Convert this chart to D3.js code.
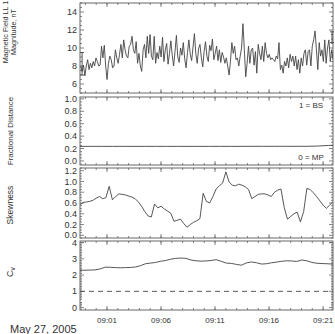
<!DOCTYPE html>
<html>
<head>
<meta charset="utf-8">
<script src="https://cdn.jsdelivr.net/npm/d3@7"></script>
<style>
  body { margin: 0; background: #fff; }
  svg { display: block; font-family: "Liberation Sans", Arial, sans-serif; }
</style>
</head>
<body>
<div id="chart"></div>
<script>
// magnetic field magnitude, ~7.7 s cadence
var bStart = Date.UTC(2005, 4, 27, 8, 58, 34), bStep = 7700;
var bField = [
  8.0, 7.4, 8.1, 6.9, 8.0, 8.7, 7.6, 8.3, 7.8, 8.5, 8.0, 8.9, 8.5, 8.0, 8.1, 10.2, 8.9, 10.3, 8.0, 6.5,
  8.3, 9.1, 8.7, 7.8, 8.0, 9.8, 8.9, 8.3, 9.3, 10.4, 8.9, 10.9, 9.8, 9.1, 8.9, 10.2, 10.4, 11.3, 9.8, 9.4,
  10.7, 8.3, 9.4, 8.0, 7.4, 9.8, 10.4, 8.9, 11.3, 9.4, 11.5, 9.1, 8.7, 11.3, 8.3,
  9.5, 8.8, 10.2, 9.0, 11.2, 8.5, 9.8, 10.5, 8.2, 9.4, 10.8, 9.2, 8.0, 9.6, 11.4, 9.0, 8.4, 10.0, 9.2, 10.6,
  8.8, 7.8, 9.5, 10.9, 9.3, 8.6, 10.1, 11.6, 9.4, 8.3, 9.9, 10.4, 8.9, 7.9, 9.6, 10.7, 9.1, 8.5, 10.3, 9.7,
  11.0, 8.7, 9.4, 10.2, 8.6, 9.8, 8.4, 9.5, 9.0,
  8.3, 8.9, 8.0, 7.0, 8.5, 10.6, 9.4, 10.2, 8.7, 8.9, 8.0, 9.1, 10.0, 12.7, 9.8, 6.8, 8.3, 10.2, 8.3, 9.8,
  10.0, 8.1, 9.6, 7.2, 10.4, 9.4, 8.7, 10.2, 8.5, 10.6, 9.4, 8.9, 9.3, 8.7, 8.9, 8.7, 8.5, 9.1, 8.8, 10.6,
  7.6, 8.1, 7.2, 8.5, 8.0, 8.9, 7.8, 9.3, 8.5, 9.1, 8.0, 9.1, 7.6, 8.7, 7.2, 8.9, 8.0, 9.4, 9.8, 8.1,
  9.6, 9.8, 8.0, 10.2, 10.9, 11.9, 9.8, 7.6, 10.6, 9.1, 9.8, 8.5, 10.9, 8.3, 10.0, 10.9, 8.5, 9.8, 8.7
];
// error bars on the field panel [index, low, high]
var bErrors = [[1, 7.0, 9.5], [182, 10.6, 11.8]];

// fractional distance between magnetopause (0) and bow shock (1), 1 min cadence
var fdStart = Date.UTC(2005, 4, 27, 8, 58, 30), fdStep = 60000;
var fracDist = [0.235, 0.235, 0.235, 0.235, 0.235, 0.235, 0.235, 0.235, 0.235, 0.235, 0.235, 0.235, 0.235,
  0.235, 0.235, 0.235, 0.236, 0.236, 0.236, 0.236, 0.236, 0.236, 0.240, 0.250, 0.254];

// skewness, 18 s cadence
var skStart = Date.UTC(2005, 4, 27, 8, 58, 30), skStep = 18000;
var skewness = [0.57, 0.61, 0.62, 0.63, 0.65, 0.69, 0.72, 0.68, 0.70, 0.91, 0.66, 0.72, 0.77, 0.76, 0.75,
  0.73, 0.71, 0.68, 0.62, 0.54, 0.44, 0.36, 0.34, 0.58, 0.51, 0.54, 0.49, 0.45, 0.41, 0.26, 0.28, 0.30,
  0.22, 0.15, 0.20, 0.24, 0.27, 0.31, 0.78, 0.63, 0.60, 0.72, 0.86, 0.92, 0.97, 1.18, 0.99, 0.93, 0.92,
  0.95, 0.93, 0.90, 0.85, 0.68, 0.72, 0.76, 0.77, 0.77, 0.75, 0.72, 0.80, 0.84, 0.86, 0.52, 0.30, 0.35,
  0.40, 0.43, 0.25, 0.44, 0.87, 0.85, 0.79, 0.72, 0.64, 0.56, 0.50, 0.56, 0.62];

// coefficient of variation, 28 s cadence
var cvStart = Date.UTC(2005, 4, 27, 8, 58, 30), cvStep = 28000;
var cv = [2.30, 2.30, 2.31, 2.32, 2.38, 2.49, 2.48, 2.46, 2.45, 2.46, 2.47, 2.50, 2.58, 2.70, 2.74, 2.78,
  2.85, 2.90, 2.98, 3.03, 3.05, 3.03, 2.93, 2.88, 2.86, 2.87, 2.90, 2.95, 2.85, 2.74, 2.72, 2.66, 2.61,
  2.75, 2.81, 2.76, 2.68, 2.70, 2.76, 2.80, 2.85, 2.88, 2.87, 2.84, 2.93, 2.88, 2.78, 2.73, 2.71, 2.70,
  2.68, 2.67];
var cvRef = 1;

var timeTicks = ["09:01", "09:06", "09:11", "09:16", "09:21"];
var dateLabel = "May 27, 2005";

var width = 335, height = 334;
var left = 80, right = 333;
var ink = "#444", frame = "#666";

var svg = d3.select("#chart").append("svg")
  .attr("width", width).attr("height", height);

var x = d3.scaleUtc()
  .domain([Date.UTC(2005, 4, 27, 8, 58, 30), Date.UTC(2005, 4, 27, 9, 21, 55)])
  .range([left, right]);

var parseHM = d3.utcParse("%Y-%m-%d %H:%M");
var majorTimes = timeTicks.map(function (t) { return parseHM("2005-05-27 " + t); });
var minorTimes = d3.utcMinute.range(x.domain()[0], x.domain()[1]);

svg.append("clipPath").attr("id", "clip")
  .append("rect").attr("x", left).attr("y", 0).attr("width", right - left).attr("height", height);

function series(start, step, values) {
  return values.map(function (v, i) { return { t: new Date(start + i * step), v: v }; });
}

function panel(opt) {
  var y = d3.scaleLinear().domain(opt.domain).range([opt.bottom, opt.top]);
  var g = svg.append("g");

  // x ticks top and bottom
  [[minorTimes, 2], [majorTimes, 4]].forEach(function (s) {
    s[0].forEach(function (t) {
      var px = x(t);
      g.append("line").attr("x1", px).attr("x2", px).attr("y1", opt.bottom).attr("y2", opt.bottom - s[1])
        .attr("stroke", frame).attr("stroke-width", 0.8);
      g.append("line").attr("x1", px).attr("x2", px).attr("y1", opt.top).attr("y2", opt.top + s[1])
        .attr("stroke", frame).attr("stroke-width", 0.8);
    });
  });

  // y ticks left and right
  var minors = d3.range(opt.domain[0], opt.domain[1] + 1e-9, opt.minor)
    .map(function (v) { return Math.round(v / opt.minor) * opt.minor; })
    .filter(function (v) { return v >= opt.domain[0] && v <= opt.domain[1]; });
  minors.forEach(function (v) {
    var len = opt.major.some(function (m) { return Math.abs(m - v) < 1e-6; }) ? 4 : 2;
    g.append("line").attr("x1", left).attr("x2", left + len).attr("y1", y(v)).attr("y2", y(v))
      .attr("stroke", frame).attr("stroke-width", 0.8);
    g.append("line").attr("x1", right).attr("x2", right - len).attr("y1", y(v)).attr("y2", y(v))
      .attr("stroke", frame).attr("stroke-width", 0.8);
  });

  g.selectAll("text.yl").data(opt.major).enter().append("text")
    .attr("x", left - 3).attr("y", function (d) { return y(d); })
    .attr("dy", "0.35em").attr("text-anchor", "end")
    .attr("font-size", 9).attr("fill", "#333")
    .text(opt.fmt);

  // frame
  g.append("rect").attr("x", left).attr("y", opt.top)
    .attr("width", right - left).attr("height", opt.bottom - opt.top)
    .attr("fill", "none").attr("stroke", frame).attr("stroke-width", 1);

  // y title
  var fs = opt.titleSize || 8;
  var tg = g.append("g").attr("transform", "translate(" + opt.titleX + "," + opt.titleY + ") rotate(-90)");
  opt.title.forEach(function (line, i) {
    tg.append("text").attr("x", 0).attr("y", i * (fs + 0.5))
      .attr("text-anchor", "middle").attr("font-size", fs).attr("fill", "#333")
      .text(line);
  });

  var line = d3.line()
    .x(function (d) { return x(d.t); })
    .y(function (d) { return y(d.v); });
  g.append("path").datum(opt.data)
    .attr("clip-path", "url(#clip)")
    .attr("fill", "none").attr("stroke", ink).attr("stroke-width", 0.9)
    .attr("d", line);

  return { g: g, y: y };
}

// panel 1: field magnitude
var p1 = panel({
  top: 3, bottom: 93, domain: [5, 15], major: [6, 8, 10, 12, 14], minor: 0.5,
  fmt: function (d) { return d; },
  title: ["Magnetic Field LL 1", "Magnitude, nT"], titleX: 8, titleY: 32, titleSize: 7.2,
  data: series(bStart, bStep, bField)
});
bErrors.forEach(function (e) {
  var px = Math.min(x(new Date(bStart + e[0] * bStep)), right - 1);
  p1.g.append("line").attr("x1", px).attr("x2", px).attr("y1", p1.y(e[1])).attr("y2", p1.y(e[2]))
    .attr("stroke", ink).attr("stroke-width", 0.9);
  [e[1], e[2]].forEach(function (v) {
    p1.g.append("line").attr("x1", px - 2).attr("x2", px + 2).attr("y1", p1.y(v)).attr("y2", p1.y(v))
      .attr("stroke", ink).attr("stroke-width", 0.9);
  });
});

// panel 2: fractional distance
var p2 = panel({
  top: 97, bottom: 165, domain: [-0.065, 1.03], major: [0, 0.2, 0.4, 0.6, 0.8, 1.0], minor: 0.05,
  fmt: d3.format(".1f"),
  title: ["Fractional Distance"], titleX: 13, titleY: 131,
  data: series(fdStart, fdStep, fracDist)
});
p2.g.append("text").attr("x", 311).attr("y", p2.y(0.9)).attr("dy", "0.35em")
  .attr("text-anchor", "middle").attr("font-size", 8).attr("fill", "#333").text("1 = BS");
p2.g.append("text").attr("x", 311).attr("y", p2.y(0.06)).attr("dy", "0.35em")
  .attr("text-anchor", "middle").attr("font-size", 8).attr("fill", "#333").text("0 = MP");

// panel 3: skewness
panel({
  top: 168, bottom: 238, domain: [-0.05, 1.25], major: [0, 0.2, 0.4, 0.6, 0.8, 1.0, 1.2], minor: 0.05,
  fmt: d3.format(".1f"),
  title: ["Skewness"], titleX: 13, titleY: 205, titleSize: 8.5,
  data: series(skStart, skStep, skewness)
});

// panel 4: Cv
var p4 = panel({
  top: 241, bottom: 310, domain: [-0.15, 4.1], major: [0, 1, 2, 3, 4], minor: 0.1,
  fmt: function (d) { return d; },
  title: [], titleX: 13, titleY: 272,
  data: series(cvStart, cvStep, cv)
});
p4.g.append("line").attr("x1", left).attr("x2", right).attr("y1", p4.y(cvRef)).attr("y2", p4.y(cvRef))
  .attr("stroke", ink).attr("stroke-width", 0.9).attr("stroke-dasharray", "5,4");
var cvt = p4.g.append("text").attr("transform", "translate(13,272) rotate(-90)")
  .attr("text-anchor", "middle").attr("font-size", 9).attr("fill", "#333");
cvt.append("tspan").text("C");
cvt.append("tspan").attr("font-size", 6.5).attr("dy", 2).text("v");

// time labels
svg.selectAll("text.xl").data(majorTimes).enter().append("text")
  .attr("x", function (d) { return x(d); }).attr("y", 323)
  .attr("text-anchor", "middle").attr("font-size", 8).attr("fill", "#333")
  .text(d3.utcFormat("%H:%M"));

svg.append("text").attr("x", 10).attr("y", 333)
  .attr("font-size", 11).attr("fill", "#333").text(dateLabel);
</script>
</body>
</html>
